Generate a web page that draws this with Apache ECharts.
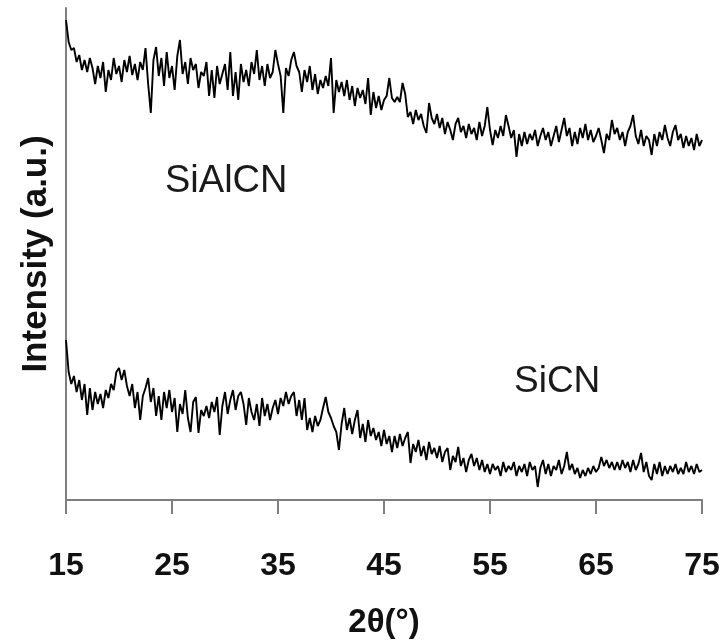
<!DOCTYPE html>
<html>
<head>
<meta charset="utf-8">
<script src="https://cdn.jsdelivr.net/npm/echarts@6/dist/echarts.min.js"></script>
<style>
html,body{margin:0;padding:0;background:#fff;}
#chart{width:724px;height:644px;}
</style>
</head>
<body>
<div id="chart"></div>
<script>
// 2θ angle values (degrees)
const twoTheta = [
15,15.25,15.5,15.75, 16,16.25,16.5,16.75, 17,17.25,17.5,17.75, 18,18.25,18.5,18.75,
19,19.25,19.5,19.75, 20,20.25,20.5,20.75, 21,21.25,21.5,21.75, 22,22.25,22.5,22.75,
23,23.25,23.5,23.75, 24,24.25,24.5,24.75, 25,25.25,25.5,25.75, 26,26.25,26.5,26.75,
27,27.25,27.5,27.75, 28,28.25,28.5,28.75, 29,29.25,29.5,29.75, 30,30.25,30.5,30.75,
31,31.25,31.5,31.75, 32,32.25,32.5,32.75, 33,33.25,33.5,33.75, 34,34.25,34.5,34.75,
35,35.25,35.5,35.75, 36,36.25,36.5,36.75, 37,37.25,37.5,37.75, 38,38.25,38.5,38.75,
39,39.25,39.5,39.75, 40,40.25,40.5,40.75, 41,41.25,41.5,41.75, 42,42.25,42.5,42.75,
43,43.25,43.5,43.75, 44,44.25,44.5,44.75, 45,45.25,45.5,45.75, 46,46.25,46.5,46.75,
47,47.25,47.5,47.75, 48,48.25,48.5,48.75, 49,49.25,49.5,49.75, 50,50.25,50.5,50.75,
51,51.25,51.5,51.75, 52,52.25,52.5,52.75, 53,53.25,53.5,53.75, 54,54.25,54.5,54.75,
55,55.25,55.5,55.75, 56,56.25,56.5,56.75, 57,57.25,57.5,57.75, 58,58.25,58.5,58.75,
59,59.25,59.5,59.75, 60,60.25,60.5,60.75, 61,61.25,61.5,61.75, 62,62.25,62.5,62.75,
63,63.25,63.5,63.75, 64,64.25,64.5,64.75, 65,65.25,65.5,65.75, 66,66.25,66.5,66.75,
67,67.25,67.5,67.75, 68,68.25,68.5,68.75, 69,69.25,69.5,69.75, 70,70.25,70.5,70.75,
71,71.25,71.5,71.75, 72,72.25,72.5,72.75, 73,73.25,73.5,73.75, 74,74.25,74.5,74.75,
75
];

// SiAlCN intensity (a.u.)
const siAlCN = [
480,458,450,452, 438,445,430,440, 428,442,432,416, 434,422,438,408,
430,420,442,426, 434,418,440,428, 444,425,436,420, 438,430,452,416,
387,440,453,424, 442,414,448,422, 434,410,444,460, 426,438,416,442,
430,436,412,428, 424,438,404,430, 402,434,416,426, 436,410,448,404,
428,400,436,418, 430,414,438,426, 450,420,434,414, 436,422,428,450,
436,424,387,432, 424,440,448,434, 428,408,430,418, 434,410,426,406,
420,412,424,414, 442,387,420,408, 418,404,420,400, 414,394,412,402,
410,396,422,385, 408,392,404,390, 400,404,422,402, 398,403,398,417,
406,383,388,376, 390,380,386,374, 367,397,382,376, 386,372,382,366,
378,370,360,376, 382,368,374,362, 376,366,372,360, 378,364,374,393,
370,355,370,362, 374,364,385,374, 362,370,343,366, 354,368,356,366,
360,370,354,364, 372,360,368,354, 364,374,358,370, 382,364,372,354,
368,356,372,362, 376,360,370,358, 364,372,360,347, 366,360,380,366,
372,360,368,354, 368,374,385,364, 356,370,354,364, 360,345,366,354,
368,360,375,362, 354,368,375,360, 366,352,364,354, 362,350,366,354,
360
];

// SiCN intensity (a.u.)
const siCN = [
160,128,116,124, 108,120,100,116, 85,112,90,108, 96,106,92,110,
102,116,110,128, 132,120,130,114, 104,116,92,108, 80,104,112,122,
98,112,84,104, 80,108,92,110, 88,102,68,96, 86,110,82,68,
98,103,67,90, 84,94,82,98, 88,103,65,94, 108,86,100,110,
90,104,108,96, 75,102,88,80, 96,74,102,84, 96,80,92,100,
86,102,94,108, 96,104,108,84, 100,80,102,70, 82,68,84,74,
80,92,103,88, 82,74,68,50, 76,92,70,82, 66,80,90,62,
76,58,80,64, 72,60,68,54, 70,56,64,48, 64,52,66,54,
62,68,37,56, 48,60,44,54, 40,58,46,52, 42,54,38,48,
52,30,44,38, 53,34,42,28, 40,46,34,42, 30,40,28,36,
26,36,30,34, 24,38,28,34, 30,38,24,34, 28,36,24,38,
30,34,13,32, 40,26,36,24, 34,30,40,26, 34,48,30,36,
26,32,22,30, 24,32,26,34, 28,32,43,34, 40,32,38,30,
38,30,40,32, 38,28,40,30, 36,47,28,38, 24,20,36,26,
38,24,34,26, 34,28,36,26, 32,26,38,28, 34,26,36,28,
30
];

const xTicks = [15, 25, 35, 45, 55, 65, 75];
const seriesNames = ['SiAlCN', 'SiCN'];

const pair = (ys) => twoTheta.map((x, i) => [x, ys[i]]);

const narrowBold = "'Liberation Sans Narrow','Arial Narrow','Liberation Sans',Arial,sans-serif";

const chart = echarts.init(document.getElementById('chart'), null, {renderer: 'canvas'});
chart.setOption({
  backgroundColor: '#ffffff',
  animation: false,
  grid: {left: 66, right: 22, top: 8, bottom: 144, containLabel: false},
  xAxis: {
    type: 'value',
    min: xTicks[0],
    max: xTicks[xTicks.length - 1],
    interval: xTicks[1] - xTicks[0],
    name: '2θ(°)',
    nameLocation: 'middle',
    nameGap: 106,
    nameTextStyle: {fontFamily: narrowBold, fontWeight: 'bold', fontSize: 33, color: '#111'},
    axisLine: {show: true, onZero: false, lineStyle: {color: '#7f7f7f', width: 2}},
    axisTick: {show: true, inside: false, length: 14, lineStyle: {color: '#7f7f7f', width: 2}},
    axisLabel: {show: true, margin: 50, fontFamily: narrowBold, fontWeight: 'bold', fontSize: 32, color: '#111',
      showMinLabel: true, showMaxLabel: true},
    splitLine: {show: false}
  },
  yAxis: {
    type: 'value',
    min: 0,
    max: 492,
    name: 'Intensity (a.u.)',
    nameLocation: 'middle',
    nameGap: 12,
    nameTextStyle: {fontFamily: "'Liberation Sans',Arial,sans-serif", fontWeight: 'bold', fontSize: 35, color: '#111'},
    axisLine: {show: true, lineStyle: {color: '#7f7f7f', width: 2}},
    axisTick: {show: false},
    axisLabel: {show: false},
    splitLine: {show: false}
  },
  series: [
    {name: seriesNames[0], type: 'line', data: pair(siAlCN), showSymbol: false, symbol: 'none',
      lineStyle: {color: '#000', width: 1.9}, z: 3},
    {name: seriesNames[1], type: 'line', data: pair(siCN), showSymbol: false, symbol: 'none',
      lineStyle: {color: '#000', width: 1.9}, z: 3}
  ],
  graphic: [
    {type: 'text', left: 165, top: 163, style: {text: seriesNames[0], fontFamily: "'Liberation Sans',Arial,sans-serif", fontSize: 38, fill: '#1a1a1a'}},
    {type: 'text', left: 514, top: 363, style: {text: seriesNames[1], fontFamily: "'Liberation Sans',Arial,sans-serif", fontSize: 37, fill: '#1a1a1a'}}
  ]
});
</script>
</body>
</html>
